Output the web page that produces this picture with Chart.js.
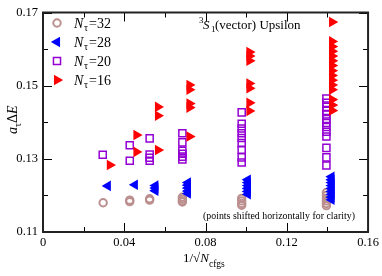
<!DOCTYPE html>
<html>
<head>
<meta charset="utf-8">
<script src="https://cdn.jsdelivr.net/npm/chart.js@4.4.0/dist/chart.umd.min.js"></script>
<style>
  html, body { margin: 0; padding: 0; background: #fff; }
  #chart { display: block; }
</style>
</head>
<body>
<canvas id="chart" width="382" height="276"></canvas>
<script>
// --- data (x = 1/sqrt(Ncfgs), shifted per series) ---
const n32X = [0.0296, 0.0427, 0.0427, 0.0525, 0.0525, 0.0686, 0.0686, 0.0686, 0.0686,
  0.0978, 0.0978, 0.0978, 0.0978, 0.1395, 0.1395, 0.1395, 0.1395, 0.1395, 0.1395];
const n32Y = [0.1180, 0.1183, 0.1187, 0.1187, 0.1191, 0.1195, 0.1190, 0.1185, 0.1182,
  0.1192, 0.1185, 0.1178, 0.1173, 0.1208, 0.1200, 0.1192, 0.1185, 0.1178, 0.1172];

const n28X = [0.0319, 0.0452, 0.0553, 0.0553, 0.0553, 0.0713, 0.0713, 0.0713, 0.0713, 0.0713,
  0.1008, 0.1008, 0.1008, 0.1008, 0.1008, 0.1008,
  0.1420, 0.1420, 0.1420, 0.1420, 0.1420, 0.1420, 0.1420, 0.1420, 0.1420];
const n28Y = [0.1226, 0.1229, 0.1227, 0.1220, 0.1213, 0.1235, 0.1228, 0.1220, 0.1212, 0.1205,
  0.1243, 0.1235, 0.1227, 0.1219, 0.1211, 0.1203,
  0.1251, 0.1243, 0.1235, 0.1227, 0.1219, 0.1211, 0.1203, 0.1195, 0.1188];

const n20X = [0.0294, 0.0427, 0.0427, 0.0525, 0.0525, 0.0525, 0.0525,
  0.0686, 0.0686, 0.0686, 0.0686, 0.0686, 0.0686,
  0.0978, 0.0978, 0.0978, 0.0978, 0.0978, 0.0978, 0.0978, 0.0978, 0.0978,
  0.1395, 0.1395, 0.1395, 0.1395, 0.1395, 0.1395, 0.1395, 0.1395, 0.1395, 0.1395, 0.1395, 0.1395, 0.1395];
const n20Y = [0.1311, 0.1337, 0.1295, 0.1356, 0.1312, 0.1303, 0.1295,
  0.1370, 0.1345, 0.1322, 0.1314, 0.1306, 0.1298,
  0.1427, 0.1396, 0.1383, 0.1370, 0.1357, 0.1343, 0.1325, 0.1304, 0.1290,
  0.1465, 0.1453, 0.1442, 0.1431, 0.1421, 0.1409, 0.1398, 0.1387, 0.1374, 0.1361, 0.1330, 0.1304, 0.1282];

const n16X = [0.0329, 0.0460, 0.0460, 0.0566, 0.0566, 0.0566,
  0.0721, 0.0721, 0.0721, 0.0721, 0.0721,
  0.1016, 0.1016, 0.1016, 0.1016, 0.1016, 0.1016, 0.1016,
  0.1423, 0.1423, 0.1423, 0.1423, 0.1423, 0.1423, 0.1423, 0.1423, 0.1423, 0.1423, 0.1423, 0.1423, 0.1423, 0.1423, 0.1423];
const n16Y = [0.1283, 0.1365, 0.1319, 0.1442, 0.1418, 0.1324,
  0.1502, 0.1489, 0.1451, 0.1440, 0.1361,
  0.1592, 0.1581, 0.1568, 0.1506, 0.1493, 0.1453, 0.1431,
  0.1674, 0.1621, 0.1607, 0.1594, 0.1581, 0.1568, 0.1555, 0.1541, 0.1528, 0.1515, 0.1502, 0.1489, 0.1462, 0.1447, 0.1432];

const legendLabels = ["32", "28", "20", "16"];
const xTickLabels = ["0", "0.04", "0.08", "0.12", "0.16"];
const yTickLabels = ["0.11", "0.13", "0.15", "0.17"];

const SERIF = "'Liberation Serif', 'DejaVu Serif', serif";

const toPoints = (xs, ys) => xs.map((x, i) => ({ x: x, y: ys[i] }));

const series = [
  { label: legendLabels[0], data: toPoints(n32X, n32Y), color: '#bc8f8f', style: 'circle', rot: 0, r: 3.7, bw: 2, fill: false, order: 4 },
  { label: legendLabels[1], data: toPoints(n28X, n28Y), color: '#0000ff', style: 'triangle', rot: -90, r: 4.6, bw: 1.5, fill: true, order: 3 },
  { label: legendLabels[2], data: toPoints(n20X, n20Y), color: '#9400d3', style: 'rect', rot: 0, r: 5, bw: 1.5, fill: false, order: 2 },
  { label: legendLabels[3], data: toPoints(n16X, n16Y), color: '#ff0000', style: 'triangle', rot: 90, r: 4.6, bw: 1.5, fill: true, order: 1 }
];

function fmtX(v) {
  const r = Math.round(v * 100) / 100;
  return r === 0 ? '0' : r.toFixed(2);
}

// --- frame, inside ticks, legend and rich text labels ---
const decorPlugin = {
  id: 'decor',
  afterDraw(chart) {
    const ctx = chart.ctx;
    const a = chart.chartArea;
    const xs = chart.scales.x, ys = chart.scales.y;
    ctx.save();
    ctx.strokeStyle = '#000';
    ctx.lineWidth = 1;
    // ticks on all four sides, pointing in
    xs.ticks.forEach(t => {
      const px = Math.round(xs.getPixelForValue(t.value)) + 0.5;
      const len = xTickLabels.includes(fmtX(t.value)) ? 9 : 5;
      ctx.beginPath();
      ctx.moveTo(px, a.bottom); ctx.lineTo(px, a.bottom - len);
      ctx.moveTo(px, a.top); ctx.lineTo(px, a.top + len);
      ctx.stroke();
    });
    ys.ticks.forEach(t => {
      const py = Math.round(ys.getPixelForValue(t.value)) + 0.5;
      const len = yTickLabels.includes(t.value.toFixed(2)) ? 9 : 5;
      ctx.beginPath();
      ctx.moveTo(a.left, py); ctx.lineTo(a.left + len, py);
      ctx.moveTo(a.right, py); ctx.lineTo(a.right - len, py);
      ctx.stroke();
    });
    // frame
    ctx.lineWidth = 2;
    ctx.strokeStyle = '#222';
    ctx.strokeRect(a.left, a.top, a.right - a.left, a.bottom - a.top);

    // legend
    const rowY = [23, 42, 61, 80];
    series.forEach((s, i) => {
      ctx.fillStyle = s.fill ? s.color : 'rgba(0,0,0,0)';
      ctx.strokeStyle = s.color;
      ctx.lineWidth = s.bw;
      Chart.helpers.drawPoint(ctx, {
        pointStyle: s.style, rotation: s.rot, radius: s.r, borderWidth: s.bw
      }, 57, rowY[i]);
      ctx.fillStyle = '#000';
      ctx.textBaseline = 'alphabetic';
      ctx.textAlign = 'left';
      ctx.font = 'italic 14px ' + SERIF;
      ctx.fillText('N', 74, rowY[i] + 4.5);
      ctx.font = '10px ' + SERIF;
      ctx.fillText('τ', 84, rowY[i] + 8);
      ctx.font = '14px ' + SERIF;
      ctx.fillText('=' + s.label, 89, rowY[i] + 4.5);
    });

    // title inside plot
    ctx.fillStyle = '#000';
    ctx.font = '9px ' + SERIF;
    ctx.fillText('3', 199, 23);
    ctx.font = 'italic 13px ' + SERIF;
    ctx.fillText('S', 203, 29);
    ctx.font = '9px ' + SERIF;
    ctx.fillText('1', 211, 32);
    ctx.font = '13px ' + SERIF;
    ctx.fillText('(vector) Upsilon', 215, 29);

    // note
    ctx.font = '9.9px ' + SERIF;
    ctx.fillText('(points shifted horizontally for clarity)', 203, 219);

    // x title
    ctx.font = '13px ' + SERIF;
    let x = 183;
    ctx.fillText('1/√', x, 262);
    x += ctx.measureText('1/√').width;
    ctx.font = 'italic 13px ' + SERIF;
    ctx.fillText('N', x, 262);
    x += ctx.measureText('N').width;
    ctx.font = '9.5px ' + SERIF;
    ctx.fillText('cfgs', x, 267);

    // y title (rotated)
    ctx.translate(17, 134);
    ctx.rotate(-Math.PI / 2);
    let y = 0;
    ctx.font = 'italic 14px ' + SERIF;
    ctx.fillText('a', y, 0);
    y += ctx.measureText('a').width;
    ctx.font = '10px ' + SERIF;
    ctx.fillText('τ', y, 4);
    y += ctx.measureText('τ').width;
    ctx.font = '14px ' + SERIF;
    ctx.fillText('Δ', y, 0);
    y += ctx.measureText('Δ').width;
    ctx.font = 'italic 14px ' + SERIF;
    ctx.fillText('E', y, 0);
    ctx.restore();
  }
};

new Chart(document.getElementById('chart'), {
  type: 'scatter',
  data: {
    datasets: series.map(s => ({
      label: 'N=' + s.label,
      data: s.data,
      order: s.order,
      pointStyle: s.style,
      rotation: s.rot,
      pointRadius: s.r,
      pointHoverRadius: s.r,
      borderWidth: s.bw,
      borderColor: s.color,
      backgroundColor: s.fill ? s.color : 'rgba(0,0,0,0)',
      showLine: false
    }))
  },
  options: {
    responsive: false,
    animation: false,
    events: [],
    layout: { padding: { top: 5, right: 13, left: 0, bottom: 0 } },
    plugins: {
      legend: { display: false },
      tooltip: { enabled: false }
    },
    scales: {
      x: {
        type: 'linear',
        min: 0, max: 0.16,
        grid: { display: false, drawTicks: false },
        border: { display: false },
        ticks: {
          stepSize: 0.02,
          autoSkip: false,
          maxRotation: 0,
          padding: 3,
          color: '#000',
          font: { family: SERIF, size: 12.5 },
          callback: v => xTickLabels.includes(fmtX(v)) ? fmtX(v) : ''
        },
        afterFit: sc => { sc.height = 44; }
      },
      y: {
        type: 'linear',
        min: 0.11, max: 0.17,
        grid: { display: false, drawTicks: false },
        border: { display: false },
        ticks: {
          stepSize: 0.01,
          autoSkip: false,
          padding: 5,
          color: '#000',
          font: { family: SERIF, size: 12.5 },
          callback: v => yTickLabels.includes(v.toFixed(2)) ? v.toFixed(2) : ''
        },
        afterFit: sc => { sc.width = 43; }
      }
    }
  },
  plugins: [decorPlugin]
});
</script>
</body>
</html>
